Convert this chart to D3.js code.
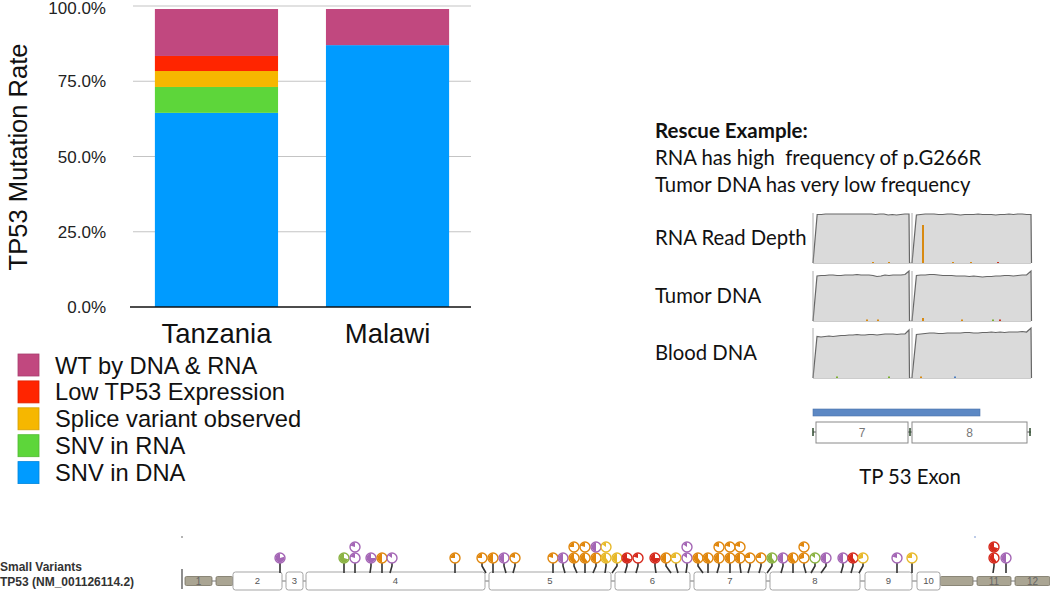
<!DOCTYPE html>
<html><head><meta charset="utf-8">
<script src="https://cdn.jsdelivr.net/npm/d3@7"></script>
<style>body{margin:0;background:#fff;} svg{display:block;}</style>
</head><body>
<svg id="c" width="1050" height="591"></svg>
<script>
// ---------------- data: stacked bar chart ----------------
const categories = ["Tanzania", "Malawi"];
const seriesNames = ["SNV in DNA", "SNV in RNA", "Splice variant observed", "Low TP53 Expression", "WT by DNA & RNA"];
const snvDNA  = [0.645, 0.870];
const snvRNA  = [0.086, 0.000];
const splice  = [0.053, 0.000];
const lowExpr = [0.050, 0.000];
const wtBoth  = [0.156, 0.120];
const yTicks = [0, 0.25, 0.5, 0.75, 1.0];
const seriesColors = ["#009bff", "#5dd63a", "#f6b700", "#ff2500", "#c1487f"];

// ---------------- data: coverage example (exon 7-8) ----------------
const covLabels = ["RNA Read Depth", "Tumor DNA", "Blood DNA"];
const covBlockStart = [0, 99];
const covBlockEnd = [96, 218];
const rnaLeft   = [0,97,97,98,98,98,98,98,98,98,98,98,98,98,98,97,98,98,96,97,96,97,98,98,0];
const rnaRight  = [0,96,97,98,98,98,97,97,98,98,97,96,97,97,97,98,97,97,97,96,97,97,98,97,98,98,97,97,0];
const tumorLeft = [0,90,91,91,92,92,91,91,92,92,92,93,92,92,92,91,89,90,92,91,92,92,92,93,100,0];
const tumorRight= [0,91,92,92,93,93,92,91,91,91,90,90,90,89,90,89,88,89,89,90,90,91,91,90,91,92,92,100,0];
const bloodLeft = [0,83,82,83,84,83,84,85,85,86,86,87,86,86,87,87,86,87,88,88,88,87,88,88,96,0];
const bloodRight= [0,87,88,89,90,90,89,89,90,90,90,90,91,91,90,90,91,91,92,91,92,91,92,92,92,93,92,100,0];
const rnaAlleles   = [[110,76,"o"],[60,2,"o"],[76,2,"o"],[140,2,"o"],[158,2,"o"],[185,2,"r"]];
const tumorAlleles = [[54,3,"o"],[65,3,"o"],[110,6,"o"],[149,3,"o"],[180,3,"g"],[187,3,"r"]];
const bloodAlleles = [[24,3,"g"],[76,3,"g"],[108,3,"o"],[142,3,"b"]];
const exonZoomLabels = ["7", "8"];
const exonZoomStart = [3, 99];
const exonZoomEnd = [95, 214];
const readSpan = [0, 167];

// ---------------- data: TP53 small-variant lollipop track ----------------
const exonLabels = ["1","2","3","4","5","6","7","8","9","10","11","12"];
const exonCodingStart = [null, 52, 105, 125, 308, 434, 513, 589, 684, 736, null, null];
const exonCodingEnd   = [null, 101, 122, 304, 430, 509, 585, 679, 731, 759, null, null];
const utrStart = [4, 35, 759, 796, 834];
const utrEnd   = [31, 52, 792, 830, 869];
const utrLabel = ["1", "", "", "11", "12"];
const lolPos  = [99,163,174,174,190,201,211,274,301,312,323,334,372,382,393,393,404,404,415,415,425,425,436,446,457,474,485,495,506,506,517,527,538,538,549,549,559,559,569,580,591,602,612,623,623,634,645,662,672,682,716,731,813,813,825];
const lolStem = [99,163,174,174,189,201,209,274,305,312,325,332,372,384,396,393,404,404,412,415,424,425,431,444,455,475,490,497,505,506,522,527,536,538,549,549,560,559,567,578,586,600,612,625,623,630,640,660,670,678,716,731,812,813,825];
const lolRow  = [1,1,1,2,1,1,1,1,1,1,1,1,1,1,1,2,1,2,1,2,1,2,1,1,1,1,1,1,1,2,1,1,1,2,1,2,1,2,1,1,1,1,1,1,2,1,1,1,1,1,1,1,1,2,1];
const lolType = ["p","g","p","p","p","o","p","o","o","o","p","o","o","p","o","o","o","o","o","p","y","y","y","r","r","r","o","y","p","p","o","o","o","o","o","o","o","o","o","o","g","p","o","o","o","g","p","p","r","y","p","y","r","r","p"];
const lolFrac = [0.8,0.7,0.2,0.2,0.75,0.5,0.15,0.25,0.25,0.5,0.5,0.2,0.2,0.5,0.6,0.25,0.6,0.2,0.5,0.5,0.6,0.15,0.5,0.7,0.2,0.75,0.5,0.25,0.15,0.15,0.6,0.6,0.5,0.2,0.5,0.2,0.5,0.2,0.25,0.25,0.6,0.5,0.6,0.3,0.2,0.15,0.5,0.5,0.6,0.3,0.2,0.25,0.6,0.7,0.5];
const lolColors = {p:"#a466b5", o:"#e0860c", y:"#e8b92a", g:"#8bb343", r:"#d6291c"};

// ================= drawing =================
const svg = d3.select("#c");
const AR = "'Liberation Sans', Arial, sans-serif";
const CAL = "Lato, 'Open Sans', sans-serif";

// ---- bar chart ----
const x = d3.scaleBand().domain(categories).range([133, 471]).paddingInner(0.28).paddingOuter(0.128);
const y = d3.scaleLinear().domain([0, 1]).range([307, 6]);
const g = svg.append("g");
g.selectAll("line.grid").data(yTicks.filter(d => d > 0)).join("line")
  .attr("x1", 133).attr("x2", 471).attr("y1", d => y(d)).attr("y2", d => y(d))
  .attr("stroke", "#c4c4c4").attr("stroke-width", 1.2);
const rows = categories.map((c, i) => ({cat: c, s0: snvDNA[i], s1: snvRNA[i], s2: splice[i], s3: lowExpr[i], s4: wtBoth[i]}));
const stack = d3.stack().keys(["s0","s1","s2","s3","s4"])(rows);
g.selectAll("g.ser").data(stack).join("g").attr("fill", (d, i) => seriesColors[i])
  .selectAll("rect").data(d => d.filter(v => v[1] - v[0] > 0)).join("rect")
  .attr("x", d => x(d.data.cat)).attr("width", x.bandwidth())
  .attr("y", d => y(d[1])).attr("height", d => y(d[0]) - y(d[1]));
g.append("line").attr("x1", 130).attr("x2", 471).attr("y1", y(0)).attr("y2", y(0)).attr("stroke", "#111").attr("stroke-width", 1.3);
g.selectAll("text.yt").data(yTicks).join("text")
  .attr("x", 106).attr("y", d => Math.max(y(d), 7.5)).attr("dy", "0.36em").attr("text-anchor", "end")
  .attr("font-family", AR).attr("font-size", 17).attr("fill", "#222")
  .text(d => d3.format(".1%")(d));
g.selectAll("text.xt").data(categories).join("text")
  .attr("x", d => x(d) + x.bandwidth() / 2).attr("y", 343).attr("text-anchor", "middle")
  .attr("font-family", AR).attr("font-size", 27.5).attr("fill", "#111").text(d => d);
g.append("text").attr("transform", "translate(27,157) rotate(-90)").attr("text-anchor", "middle")
  .attr("font-family", AR).attr("font-size", 25.5).attr("fill", "#111").text("TP53 Mutation Rate");

// legend (reverse order)
const legOrder = [4, 3, 2, 1, 0];
const leg = svg.append("g");
legOrder.forEach((si, k) => {
  const cy = 365 + k * 26.9;
  leg.append("rect").attr("x", 18).attr("y", cy - 11).attr("width", 21).attr("height", 22)
    .attr("fill", seriesColors[si]).attr("stroke", d3.color(seriesColors[si]).darker(0.4)).attr("stroke-width", 0.8);
  leg.append("text").attr("x", 55).attr("y", cy).attr("dy", "0.36em")
    .attr("font-family", AR).attr("font-size", 23.7).attr("fill", "#111").text(seriesNames[si]);
});

// ---- rescue example ----
const r = svg.append("g");
r.append("text").attr("x", 655).attr("y", 138).attr("font-family", CAL).attr("font-weight", "bold")
  .attr("font-size", 20.5).attr("fill", "#111").text("Rescue Example:");
r.append("text").attr("x", 655).attr("y", 165).attr("font-family", CAL).attr("font-size", 20.3)
  .attr("fill", "#111").attr("xml:space", "preserve").text("RNA has high  frequency of p.G266R");
r.append("text").attr("x", 655).attr("y", 192).attr("font-family", CAL).attr("font-size", 20.3)
  .attr("fill", "#111").text("Tumor DNA has very low frequency");

const xc = d3.scaleLinear().domain([0, 218]).range([813, 1031]);
const panelTop = [213, 271, 328];
const panelH = 50;
const panelBlocks = [[rnaLeft, rnaRight], [tumorLeft, tumorRight], [bloodLeft, bloodRight]];
const panelAlleles = [rnaAlleles, tumorAlleles, bloodAlleles];
const alleleColors = {o: "#d88a12", g: "#7cb031", r: "#cc3322", b: "#4d7fc1"};
panelTop.forEach((top, p) => {
  const yc = d3.scaleLinear().domain([0, 100]).range([top + panelH, top]);
  r.append("text").attr("x", 655).attr("y", top + panelH / 2).attr("dy", "0.36em")
    .attr("font-family", CAL).attr("font-size", 20.3).attr("fill", "#111").text(covLabels[p]);
  r.append("line").attr("x1", xc(0)).attr("x2", xc(218)).attr("y1", yc(0)).attr("y2", yc(0))
    .attr("stroke", "#9a9a9a").attr("stroke-width", 1);
  panelBlocks[p].forEach((vals, b) => {
    const n = vals.length;
    const bx = d3.scaleLinear().domain([0, n - 2]).range([xc(covBlockStart[b]), xc(covBlockEnd[b])]);
    const px = (d, i) => bx(Math.min(i, n - 2)) + (i === n - 1 ? 0.5 : 0);
    r.append("path").datum(vals)
      .attr("d", d3.area().x(px).y0(yc(0)).y1(d => yc(d)))
      .attr("fill", "#dadada");
    r.append("path").datum(vals)
      .attr("d", d3.line().x(px).y(d => yc(d)))
      .attr("fill", "none").attr("stroke", "#666").attr("stroke-width", 1.2);
    r.append("line").attr("x1", bx(0)).attr("x2", bx(0)).attr("y1", yc(0)).attr("y2", yc(100))
      .attr("stroke", "#999").attr("stroke-width", 0.8);
  });
  r.selectAll(null).data(panelAlleles[p]).join("rect")
    .attr("x", d => xc(d[0]) - 1).attr("width", 2)
    .attr("y", d => yc(d[1])).attr("height", d => yc(0) - yc(d[1]))
    .attr("fill", d => alleleColors[d[2]]);
});
// read span bar
r.append("rect").attr("x", xc(readSpan[0])).attr("width", xc(readSpan[1]) - xc(readSpan[0]))
  .attr("y", 409).attr("height", 7).attr("fill", "#5c88c4").attr("stroke", "#4a72aa").attr("stroke-width", 0.6);
// exon 7/8 track
r.append("line").attr("x1", xc(0)).attr("x2", xc(218)).attr("y1", 432).attr("y2", 432).attr("stroke", "#555").attr("stroke-width", 1);
[0, 97, 217].forEach(v => r.append("line").attr("x1", xc(v)).attr("x2", xc(v)).attr("y1", 428).attr("y2", 436).attr("stroke", "#2c4a2c").attr("stroke-width", 1.5));
exonZoomLabels.forEach((lab, i) => {
  r.append("rect").attr("x", xc(exonZoomStart[i])).attr("width", xc(exonZoomEnd[i]) - xc(exonZoomStart[i]))
    .attr("y", 422).attr("height", 21).attr("fill", "#fff").attr("stroke", "#8a8a8a").attr("stroke-width", 1);
  r.append("text").attr("x", (xc(exonZoomStart[i]) + xc(exonZoomEnd[i])) / 2).attr("y", 432.5).attr("dy", "0.36em")
    .attr("text-anchor", "middle").attr("font-family", AR).attr("font-size", 12).attr("fill", "#777").text(lab);
});
r.append("text").attr("x", 910).attr("y", 477).attr("dy", "0.36em").attr("text-anchor", "middle")
  .attr("font-family", CAL).attr("font-size", 20.3).attr("fill", "#111").text("TP 53 Exon");

// ---- lollipop track ----
const t = svg.append("g");
t.append("text").attr("x", 0).attr("y", 571).attr("font-family", AR).attr("font-weight", "bold")
  .attr("font-size", 12).attr("fill", "#333").text("Small Variants");
t.append("text").attr("x", 0).attr("y", 586).attr("font-family", AR).attr("font-weight", "bold")
  .attr("font-size", 12).attr("fill", "#333").text("TP53 (NM_001126114.2)");
const gx = d3.scaleLinear().domain([0, 870]).range([181, 1051]);
const yRow = d3.scaleLinear().domain([1, 2]).range([558, 547]);
const boxTop = 572, boxBot = 590, midY = 581;
t.append("line").attr("x1", gx(1)).attr("x2", gx(1)).attr("y1", 569).attr("y2", 589).attr("stroke", "#444").attr("stroke-width", 1.2);
t.append("circle").attr("cx", gx(1)).attr("cy", 537).attr("r", 0.8).attr("fill", "#555");
t.append("circle").attr("cx", gx(794)).attr("cy", 537).attr("r", 0.8).attr("fill", "#6a8ccc");
t.append("line").attr("x1", gx(4)).attr("x2", gx(869)).attr("y1", midY).attr("y2", midY).attr("stroke", "#777").attr("stroke-width", 1);
utrStart.forEach((s, i) => {
  t.append("rect").attr("x", gx(s)).attr("width", gx(utrEnd[i]) - gx(s)).attr("y", 576.5).attr("height", 9)
    .attr("rx", 1.5).attr("fill", "#aaa593").attr("stroke", "#777262").attr("stroke-width", 0.8);
  if (utrLabel[i]) t.append("text").attr("x", (gx(s) + gx(utrEnd[i])) / 2).attr("y", midY).attr("dy", "0.36em")
    .attr("text-anchor", "middle").attr("font-family", AR).attr("font-size", 10).attr("fill", "#666").text(utrLabel[i]);
});
exonLabels.forEach((lab, i) => {
  if (exonCodingStart[i] === null) return;
  const x0 = gx(exonCodingStart[i]), x1 = gx(exonCodingEnd[i]);
  t.append("rect").attr("x", x0).attr("width", x1 - x0).attr("y", boxTop).attr("height", boxBot - boxTop)
    .attr("rx", 2.5).attr("fill", "#fff").attr("stroke", "#a5a5a5").attr("stroke-width", 1);
  t.append("text").attr("x", (x0 + x1) / 2).attr("y", midY).attr("dy", "0.36em")
    .attr("text-anchor", "middle").attr("font-family", AR).attr("font-size", 9.5).attr("fill", "#555").text(lab);
});
const R = 5;
const arc = d3.arc().innerRadius(0).outerRadius(R - 0.6);
lolPos.forEach((p, i) => {
  const cx = gx(p), cy = yRow(lolRow[i]);
  if (lolRow[i] === 1) {
    t.append("path").attr("d", d3.line()([[cx, cy + R], [cx, 566], [gx(lolStem[i]), boxTop + 1]]))
      .attr("fill", "none").attr("stroke", "#333").attr("stroke-width", 1.6);
  }
});
lolPos.forEach((p, i) => {
  const cx = gx(p), cy = yRow(lolRow[i]);
  const col = lolColors[lolType[i]];
  const gg = t.append("g").attr("transform", `translate(${cx},${cy})`);
  gg.append("circle").attr("r", R).attr("fill", "#fff").attr("stroke", col).attr("stroke-width", 1.4);
  gg.append("path").attr("d", arc({startAngle: -lolFrac[i] * 2 * Math.PI, endAngle: 0})).attr("fill", col);
});
</script>
</body></html>
